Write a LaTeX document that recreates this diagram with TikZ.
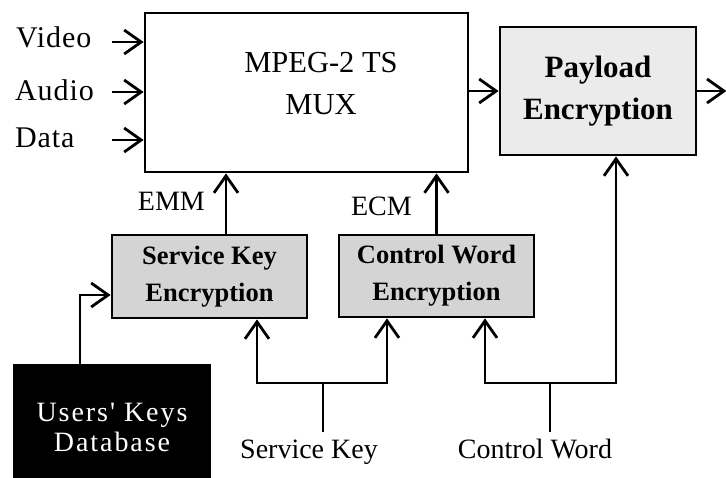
\documentclass[tikz,border=0pt]{standalone}
\usepackage{fontspec}
\setmainfont{Liberation Serif}
\newfontfamily\spacedfont[LetterSpace=7]{Liberation Serif}
\newfontfamily\inputfont[LetterSpace=3]{Liberation Serif}
\usetikzlibrary{arrows.meta}

\tikzset{
  wire/.style={line width=2.8pt},
  arr/.style={wire, -{Straight Barb[length=17pt,width=24pt]}},
  blk/.style={draw, line width=2.8pt, inner sep=0pt, align=center},
  enc/.style={blk, fill=black!17, font=\fontsize{26.5}{37}\selectfont\bfseries},
  lbl/.style={inner sep=0pt, font=\fontsize{28}{33}\selectfont},
  inlbl/.style={lbl, anchor=base west, font=\fontsize{30}{33}\selectfont\inputfont},
}

\begin{document}
\begin{tikzpicture}[x=1pt,y=-1pt]

    \useasboundingbox (0,0) rectangle (726,477);

    % Bloques
    \node[blk, minimum width=323, minimum height=159] (mux) at (306.5,92.5) {};
    \node[inner sep=0pt, align=center, font=\fontsize{30.5}{42}\selectfont] (muxtext) at (321,84) {MPEG-2 TS\\MUX};
    \node[blk, fill=black!8, minimum width=196, minimum height=128,
          font=\fontsize{31}{42}\selectfont\bfseries] (pay) at (598,91) {Payload\\Encryption};
    \node[enc, minimum width=195, minimum height=83] (ske) at (209.5,276.5) {Service Key\\Encryption};
    \node[enc, minimum width=195, minimum height=82] (cwe) at (436.5,276) {Control Word\\Encryption};
    \node[fill=black, text=white, inner sep=0pt, align=center, minimum width=198, minimum height=126,
          font=\fontsize{28}{30}\selectfont\spacedfont] (ukd) at (112,427) {Users' Keys\\Database};

    % Entradas
    \node[inlbl] (video) at (16,47) {Video};
    \node[inlbl] (audio) at (15,100) {Audio};
    \node[inlbl] (data) at (15,147) {Data};
    \coordinate (vin) at (112,42);
    \coordinate (ain) at (112,92);
    \coordinate (din) at (112,140);
    \draw[arr] (vin) -- (vin -| mux.west);
    \draw[arr] (ain) -- (ain -| mux.west);
    \draw[arr] (din) -- (din -| mux.west);

    % Salidas
    \draw[arr] (pay.west -| mux.east) -- (pay.west);
    \draw[arr] (pay.east) -- ++(29,0);

    % EMM / ECM
    \draw[arr] ([xshift=16.5pt]ske.north) -- ([xshift=16.5pt]ske.north |- mux.south);
    \draw[arr] (cwe.north) -- (cwe.north |- mux.south);
    \node[lbl, anchor=base east] (emm) at (205,210) {EMM};
    \node[lbl, anchor=base east] (ecm) at (412,215) {ECM};

    % Base de datos
    \draw[arr] ([xshift=-32pt]ukd.north) |- ([yshift=-18.5pt]ske.west);

    % Service Key
    \node[lbl, anchor=base] (skey) at (309,458) {Service Key};
    \coordinate (skj) at (323,383);
    \coordinate (sk0) at (323,432);
    \draw[wire] (sk0) -- (skj);
    \draw[arr] (skj) -| ([xshift=47.5pt]ske.south);
    \draw[arr] (skj) -| ([xshift=-49.5pt]cwe.south);

    % Control Word
    \node[lbl, anchor=base] (cword) at (535,458) {Control Word};
    \coordinate (cwj) at (550,383);
    \coordinate (cw0) at (550,432);
    \draw[wire] (cw0) -- (cwj);
    \draw[arr] (cwj) -| ([xshift=48.5pt]cwe.south);
    \draw[arr] (cwj) -| ([xshift=18pt]pay.south);

\end{tikzpicture}
\end{document}
